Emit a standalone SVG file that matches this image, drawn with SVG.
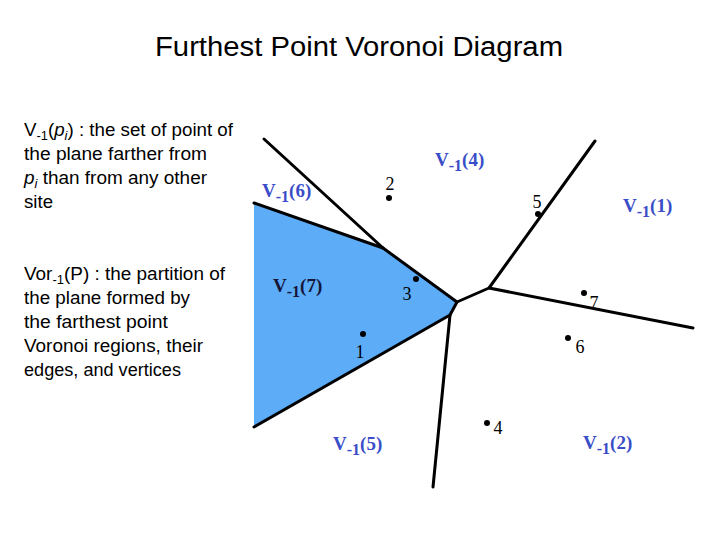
<svg xmlns="http://www.w3.org/2000/svg" width="720" height="540" viewBox="0 0 720 540">
<style>
.txt{font-family:"Liberation Sans",Arial,sans-serif;font-size:17.5px;fill:#000}
.title{font-family:"Liberation Sans",Arial,sans-serif;font-size:27px;fill:#000}
.reg{font-family:"Liberation Serif","Times New Roman",serif;font-size:19px;font-weight:bold;fill:#3a4dc8}
.reg7{fill:#15153a}
.rsub{font-size:16px}
.num{font-family:"Liberation Serif","Times New Roman",serif;font-size:18px;fill:#000}
.edge{stroke:#000;stroke-width:3;fill:none;stroke-linecap:round;stroke-linejoin:round}
.sub{font-size:12px}
</style>
<rect width="720" height="540" fill="#fff"/>
<text class="title" x="359" y="56" text-anchor="middle" textLength="408" lengthAdjust="spacingAndGlyphs">Furthest Point Voronoi Diagram</text>
<g id="desc1">
<text class="txt" x="24" y="136" textLength="209" lengthAdjust="spacingAndGlyphs">V<tspan class="sub" dy="4">-1</tspan><tspan dy="-4">(</tspan><tspan font-style="italic">p</tspan><tspan class="sub" font-style="italic" dy="4">i</tspan><tspan dy="-4">) : the set of point of</tspan></text>
<text class="txt" x="24" y="160" textLength="183" lengthAdjust="spacingAndGlyphs">the plane farther from</text>
<text class="txt" x="24" y="184" textLength="183" lengthAdjust="spacingAndGlyphs"><tspan font-style="italic">p</tspan><tspan class="sub" font-style="italic" dy="4">i</tspan><tspan dy="-4"> than from any other</tspan></text>
<text class="txt" x="24" y="208" textLength="29" lengthAdjust="spacingAndGlyphs">site</text>
</g>
<g id="desc2">
<text class="txt" x="24" y="280" textLength="201" lengthAdjust="spacingAndGlyphs">Vor<tspan class="sub" dy="4">-1</tspan><tspan dy="-4">(P) : the partition of</tspan></text>
<text class="txt" x="24" y="304" textLength="166" lengthAdjust="spacingAndGlyphs">the plane formed by</text>
<text class="txt" x="24" y="328" textLength="144" lengthAdjust="spacingAndGlyphs">the farthest point</text>
<text class="txt" x="24" y="352" textLength="179" lengthAdjust="spacingAndGlyphs">Voronoi regions, their</text>
<text class="txt" x="24" y="376" textLength="157" lengthAdjust="spacingAndGlyphs">edges, and vertices</text>
</g>
<g id="region7">
<polygon points="254,203 383,248 457,302 450,315 254,427" fill="#5cacf8"/>
</g>
<g id="connectors">
<line class="edge" x1="264" y1="139" x2="383" y2="248"/>
<line class="edge" x1="254" y1="203" x2="383" y2="248"/>
<polyline class="edge" points="383,248 457,302 450,315 254,427"/>
<line class="edge" x1="450" y1="315" x2="433" y2="487"/>
<polyline class="edge" points="457,302 489,288 595,141"/>
<line class="edge" x1="489" y1="288" x2="693" y2="328"/>
</g>
<g id="sites">
<g id="p1"><circle cx="363" cy="334" r="3"/><text class="num" x="360" y="358" text-anchor="middle">1</text></g>
<g id="p2"><circle cx="389" cy="198" r="3"/><text class="num" x="390" y="190" text-anchor="middle">2</text></g>
<g id="p3"><circle cx="416" cy="279" r="3"/><text class="num" x="407" y="300" text-anchor="middle">3</text></g>
<g id="p4"><circle cx="487" cy="423" r="3"/><text class="num" x="498" y="434" text-anchor="middle">4</text></g>
<g id="p5"><circle cx="538" cy="214" r="3"/><text class="num" x="537" y="208" text-anchor="middle">5</text></g>
<g id="p6"><circle cx="568" cy="338" r="3"/><text class="num" x="580" y="353" text-anchor="middle">6</text></g>
<g id="p7"><circle cx="584" cy="293" r="3"/><text class="num" x="594" y="309" text-anchor="middle">7</text></g>
</g>
<g id="labels">
<text class="reg" x="262" y="197">V<tspan class="rsub" dy="5">-1</tspan><tspan dy="-5">(6)</tspan></text>
<text class="reg" x="435" y="166">V<tspan class="rsub" dy="5">-1</tspan><tspan dy="-5">(4)</tspan></text>
<text class="reg" x="623" y="212">V<tspan class="rsub" dy="5">-1</tspan><tspan dy="-5">(1)</tspan></text>
<text class="reg reg7" x="273" y="292">V<tspan class="rsub" dy="5">-1</tspan><tspan dy="-5">(7)</tspan></text>
<text class="reg" x="333" y="450">V<tspan class="rsub" dy="5">-1</tspan><tspan dy="-5">(5)</tspan></text>
<text class="reg" x="583" y="449">V<tspan class="rsub" dy="5">-1</tspan><tspan dy="-5">(2)</tspan></text>
</g>
</svg>
